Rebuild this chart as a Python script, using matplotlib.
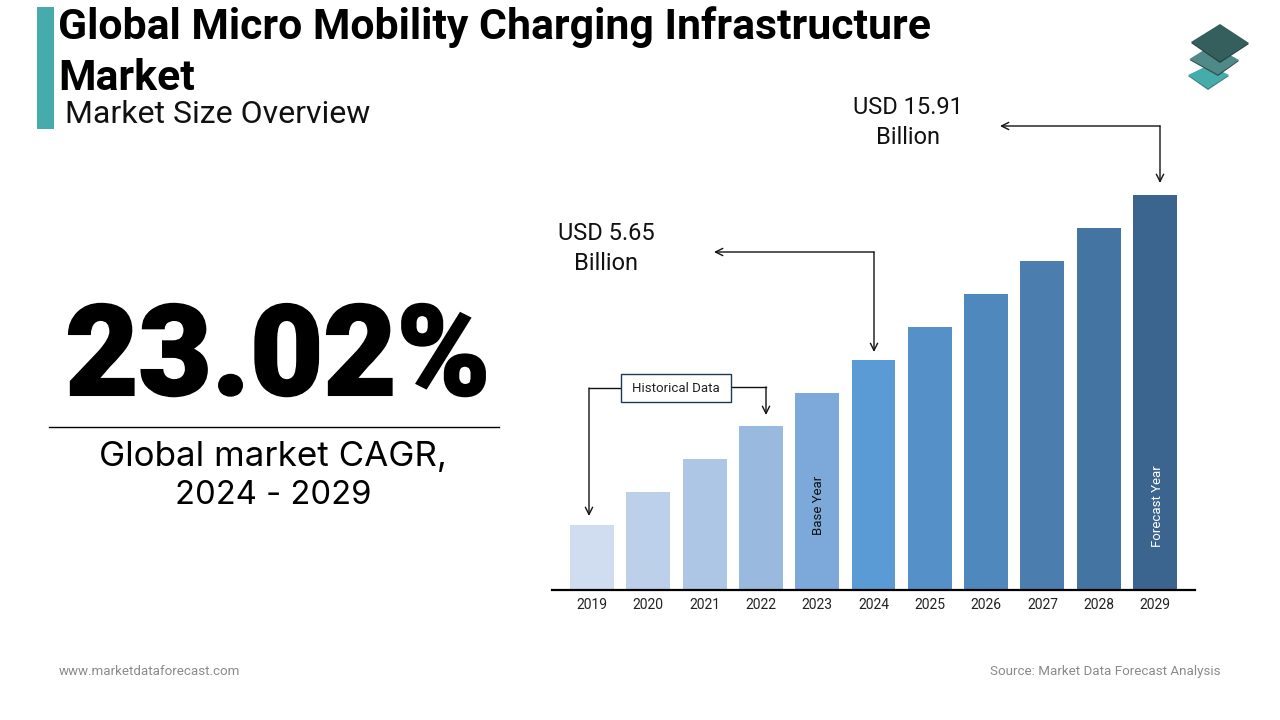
# -*- coding: utf-8 -*-
# market size overview - bar chart with callouts
import matplotlib
matplotlib.use("Agg")
import matplotlib.pyplot as plt
import matplotlib.patheffects as pe
from matplotlib.patches import Polygon, Rectangle

years = ["2019", "2020", "2021", "2022", "2023", "2024", "2025", "2026", "2027", "2028", "2029"]
# bars are illustrative in the source, heights read off the picture
bar_heights = [65, 98, 131, 164, 197, 230, 263, 296, 329, 362, 395]
bar_colors = ["#D0DCEF", "#BDD0EA", "#ADC6E5", "#99B9DF", "#7DA9DA", "#5B9BD5",
              "#5590C9", "#4F88BC", "#4B7EAF", "#4474A1", "#3B658F"]

plt.rcParams["font.family"] = ["Roboto", "DejaVu Sans"]

fig = plt.figure(figsize=(12.8, 7.2), dpi=100)

# overlay in pixel coords for the text and callouts
ov = fig.add_axes([0, 0, 1, 1])
ov.set_xlim(0, 1280)
ov.set_ylim(720, 0)
ov.axis("off")

# bars
ax = fig.add_axes([552 / 1280, (720 - 590) / 720, (1195 - 552) / 1280, 420 / 720])
ax.bar(range(len(years)), bar_heights, width=0.78, color=bar_colors)
ax.set_xlim(-0.71, 10.71)
ax.set_ylim(0, 420)
ax.patch.set_alpha(0)
ax.set_yticks([])
ax.set_xticks(range(len(years)))
ax.set_xticklabels(years, fontsize=10, color="#222222")
ax.tick_params(axis="x", length=0, pad=6)
for s in ["top", "left", "right"]:
    ax.spines[s].set_visible(False)
ax.spines["bottom"].set_linewidth(1.6)
ax.spines["bottom"].set_color("black")
ax.text(4.03, 85, "Base Year", rotation=90, ha="center", va="center", fontsize=9.5, color="#111111")
ax.text(10.04, 84, "Forecast Year", rotation=90, ha="center", va="center", fontsize=9.5, color="white")

# title block
ov.add_patch(Rectangle((37, 7), 17, 122, color="#45ABAB", lw=0))
ov.text(58.5, 27, "Global Micro Mobility Charging Infrastructure", fontsize=30.8, fontweight="bold", va="center", color="black")
ov.text(58.5, 79, "Market", fontsize=30.8, fontweight="bold", va="center", color="black")
ov.text(65, 114.5, "Market Size Overview", fontsize=23, va="center", color="#111111")

# big number, stroked a little since the original face is heavier
ov.text(278, 361, "23.02%", fontsize=91, fontweight="black", ha="center", va="center", color="black",
        path_effects=[pe.withStroke(linewidth=1.5, foreground="black", joinstyle="miter")])
ov.plot([49, 499], [427, 427], color="black", lw=1)
ov.text(273, 457, "Global market CAGR,", fontsize=25.2, family=["Inter", "DejaVu Sans"], ha="center", va="center", color="black")
ov.text(273, 495, "2024 - 2029", fontsize=23.6, family=["Inter", "DejaVu Sans"], ha="center", va="center", color="black")

# value callouts
ov.text(908, 108, "USD 15.91", fontsize=17, ha="center", va="center", color="#111111")
ov.text(908, 137, "Billion", fontsize=17, ha="center", va="center", color="#111111")
ov.text(606, 234, "USD 5.65", fontsize=17, ha="center", va="center", color="#111111")
ov.text(606, 263, "Billion", fontsize=17, ha="center", va="center", color="#111111")


def elbow(x0, y0, xc, yc, x1, y1):
    # two-segment connector with an open arrow head at the end
    ov.plot([x0, xc, x1], [y0, yc, yc], color="#111111", lw=1)
    ov.annotate("", xy=(x1, y1), xytext=(x1, yc),
                arrowprops=dict(arrowstyle="->", color="#111111", lw=1, shrinkA=0, shrinkB=0, mutation_scale=13))


elbow(1160, 126, 1160, 126, 1160, 183)
ov.annotate("", xy=(1000, 126), xytext=(1160, 126),
            arrowprops=dict(arrowstyle="->", color="#111111", lw=1, shrinkA=0, shrinkB=0, mutation_scale=13))
elbow(874, 252, 874, 252, 874, 352)
ov.annotate("", xy=(714, 252), xytext=(874, 252),
            arrowprops=dict(arrowstyle="->", color="#111111", lw=1, shrinkA=0, shrinkB=0, mutation_scale=13))
elbow(621, 388, 589, 388, 589, 516)
elbow(731, 387, 766, 387, 766, 415)

ov.add_patch(Rectangle((621, 374), 109.5, 27.5, facecolor="white", edgecolor="#1F3A57", lw=1, zorder=3))
ov.text(676, 388, "Historical Data", fontsize=9.5, ha="center", va="center", color="#222222", zorder=4)

# footer
ov.text(59, 671.5, "www.marketdataforecast.com", fontsize=9.6, va="center", color="#8A8A8A")
ov.text(1220, 671, "Source: Market Data Forecast Analysis", fontsize=9.6, ha="right", va="center", color="#8A8A8A")

# logo, three stacked sheets with a dark lower edge
ov.add_patch(Polygon([(1188, 76), (1208, 90), (1229, 76), (1208, 67)], color="#3F7F7D", lw=0))
ov.add_patch(Polygon([(1188, 75), (1208, 88.5), (1229, 75), (1209, 65)], color="#45ABAB", lw=0))
ov.add_patch(Polygon([(1189.5, 60), (1218, 76), (1239, 61), (1212, 46)], color="#2F4F4D", lw=0))
ov.add_patch(Polygon([(1189.5, 59), (1218, 74.5), (1239, 60), (1212, 45)], color="#4F8A88", lw=0))
ov.add_patch(Polygon([(1191, 43), (1220, 63), (1249, 44), (1220, 25)], color="#26403F", lw=0))
ov.add_patch(Polygon([(1191, 42), (1220, 61.5), (1249, 43), (1220, 24)], color="#355F5C", lw=0))

fig.savefig("out.png", dpi=100)
